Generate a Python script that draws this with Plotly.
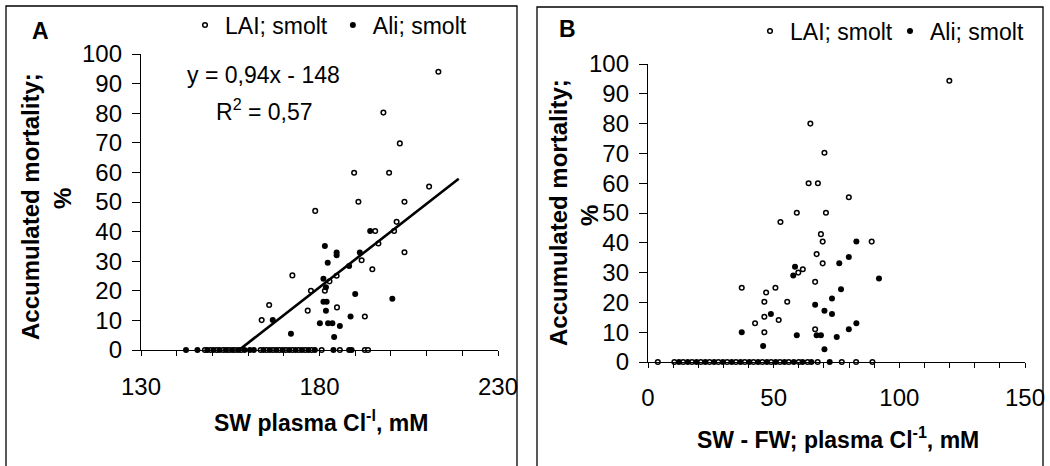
import plotly.graph_objects as go

# ---------------- Data ----------------
# Panel A: SW plasma Cl (mM) vs accumulated mortality (%)
a_lai_x = [213.3, 197.9, 202.5, 189.7, 199.5, 210.7, 190.9, 203.8, 178.8, 201.6, 195.6, 200.9,
           196.5, 203.8, 191.8, 194.8, 172.4, 184.8, 182.8, 181.5, 177.6, 165.9, 184.9, 176.7,
           163.8, 192.7,
           147.9, 149.5, 151.2, 153.0, 154.6, 156.3, 158.0, 163.5, 165.2, 167.0, 168.8, 170.6,
           172.4, 174.2, 176.0, 177.8, 180.6, 185.7, 192.7, 193.6]
a_lai_y = [94.0, 80.2, 69.8, 59.9, 59.9, 55.2, 50.1, 50.1, 47.0, 43.3, 40.2, 40.2,
           36.0, 33.0, 30.3, 27.3, 25.2, 25.1, 23.2, 20.0, 20.0, 15.2, 14.4, 13.3,
           10.1, 11.3,
           0, 0, 0, 0, 0, 0, 0, 0, 0, 0, 0, 0,
           0, 0, 0, 0, 0, 0, 0, 0]
a_ali_x = [194.2, 181.5, 184.8, 184.8, 191.3, 182.3, 188.3, 181.1, 181.8, 190.0, 200.4, 181.1,
           182.0, 181.8, 166.9, 180.1, 182.4, 183.6, 185.7, 188.7, 172.0, 184.1,
           142.6, 145.8, 148.6, 150.3, 152.0, 153.8, 155.5, 157.2, 159.0, 160.5, 161.6, 164.3,
           166.1, 167.9, 169.7, 171.5, 173.3, 175.1, 176.9, 178.7, 183.9, 188.3, 189.0]
a_ali_y = [40.2, 35.1, 32.9, 32.0, 32.9, 29.5, 28.4, 24.1, 21.2, 18.9, 17.3, 16.3,
           16.3, 13.3, 10.1, 9.0, 9.0, 9.0, 8.1, 11.3, 5.5, 4.4,
           0, 0, 0, 0, 0, 0, 0, 0, 0, 0, 0, 0,
           0, 0, 0, 0, 0, 0, 0, 0, 0, 0, 0]
# Linear fit shown in panel A
fit_slope = 0.94
fit_intercept = -148
fit_x_end = 219.0

# Panel B: SW - FW plasma Cl (mM) vs accumulated mortality (%)
b_lai_x = [119.9, 64.6, 70.2, 63.9, 67.6, 79.9, 59.2, 70.8, 52.7, 68.8, 69.5, 89.0,
           67.1, 69.5, 61.6, 59.8, 66.5, 37.3, 50.7, 47.0, 46.3, 55.4, 46.3, 42.6,
           52.0, 46.3, 66.5,
           3.9, 10.5, 14.0, 17.5, 21.0, 24.5, 28.0, 31.5, 35.0, 38.5, 42.0, 45.5,
           49.0, 52.5, 56.0, 60.0, 63.5, 67.5, 77.1, 82.8, 89.3]
b_lai_y = [94.4, 80.0, 70.2, 60.0, 60.0, 55.3, 50.1, 50.1, 47.0, 42.9, 40.4, 40.4,
           36.2, 33.1, 31.1, 30.0, 26.9, 24.9, 24.9, 23.3, 20.2, 20.2, 15.2, 13.0,
           14.1, 10.0, 11.0,
           0, 0, 0, 0, 0, 0, 0, 0, 0, 0, 0, 0,
           0, 0, 0, 0, 0, 0, 0, 0, 0]
b_ali_x = [82.9, 79.9, 76.1, 91.9, 58.5, 57.8, 76.8, 73.2, 66.5, 70.2, 73.2, 48.9,
           82.9, 79.9, 37.3, 59.2, 67.1, 68.8, 75.1, 45.8, 70.2,
           12.3, 15.8, 19.3, 22.8, 26.3, 29.8, 33.3, 36.8, 40.3, 43.8, 47.3, 50.8,
           54.3, 58.0, 61.5, 65.0, 72.3]
b_ali_y = [40.4, 35.2, 33.1, 28.0, 32.0, 29.0, 24.4, 21.3, 19.2, 17.2, 16.1, 16.1,
           13.0, 11.0, 10.0, 9.0, 9.0, 9.0, 8.4, 5.4, 4.3,
           0, 0, 0, 0, 0, 0, 0, 0, 0, 0, 0, 0,
           0, 0, 0, 0, 0]

series_names = ["LAI; smolt", "Ali; smolt"]
a_xrange = [130, 230]
b_xrange = [0, 150]
y_range = [0, 100]
x_label_step = 50
x_minor_step = 10
y_step = 10

# ---------------- Figure ----------------
W, H = 1050, 466
FONT = "Liberation Sans, Arial, sans-serif"
FS = 23
TICK_FS = 24

def px_x(p):
    return p / W

def px_y(p):
    return 1 - p / H

open_marker = dict(symbol="circle", size=4.6, color="white", line=dict(color="black", width=1.5))
fill_marker = dict(symbol="circle", size=6, color="black", line=dict(color="black", width=0))

fig = go.Figure()
fig.add_trace(go.Scatter(x=a_lai_x, y=a_lai_y, mode="markers", name=series_names[0],
                         marker=open_marker, xaxis="x", yaxis="y", legend="legend", cliponaxis=False))
fig.add_trace(go.Scatter(x=a_ali_x, y=a_ali_y, mode="markers", name=series_names[1],
                         marker=fill_marker, xaxis="x", yaxis="y", legend="legend", cliponaxis=False))
fit_x = [-fit_intercept / fit_slope, fit_x_end]
fit_y = [fit_slope * v + fit_intercept for v in fit_x]
fig.add_trace(go.Scatter(x=fit_x, y=fit_y, mode="lines", line=dict(color="black", width=2.6),
                         showlegend=False, xaxis="x", yaxis="y", hoverinfo="skip"))

fig.add_trace(go.Scatter(x=b_lai_x, y=b_lai_y, mode="markers", name=series_names[0],
                         marker=open_marker, xaxis="x2", yaxis="y2", legend="legend2", cliponaxis=False))
fig.add_trace(go.Scatter(x=b_ali_x, y=b_ali_y, mode="markers", name=series_names[1],
                         marker=fill_marker, xaxis="x2", yaxis="y2", legend="legend2", cliponaxis=False))

axis_common = dict(showgrid=False, zeroline=False, showline=True, linecolor="black", linewidth=1.3,
                   ticks="outside", tickcolor="black", tickwidth=1.3, automargin=False,
                   tickfont=dict(family=FONT, size=TICK_FS, color="black"))

minor_x = dict(dtick=x_minor_step, ticks="outside", ticklen=5, tickcolor="black", tickwidth=1.3, showgrid=False)

fig.update_layout(
    width=W, height=H,
    margin=dict(l=0, r=0, t=0, b=0, autoexpand=False),
    paper_bgcolor="white", plot_bgcolor="white",
    font=dict(family=FONT, size=FS, color="black"),
    xaxis=dict(domain=[px_x(141), px_x(498)], range=a_xrange, anchor="y",
               tickmode="linear", tick0=a_xrange[0], dtick=x_label_step, ticklen=5, ticklabelstandoff=10,
               minor=minor_x, **axis_common),
    yaxis=dict(domain=[px_y(350), px_y(54)], range=y_range, anchor="x",
               tickmode="linear", tick0=0, dtick=y_step, ticklen=8, ticklabelstandoff=5,
               **axis_common),
    xaxis2=dict(domain=[px_x(648), px_x(1025)], range=b_xrange, anchor="y2",
                tickmode="linear", tick0=b_xrange[0], dtick=x_label_step, ticklen=5, ticklabelstandoff=9,
                minor=minor_x, **axis_common),
    yaxis2=dict(domain=[px_y(362), px_y(64)], range=y_range, anchor="x2",
                tickmode="linear", tick0=0, dtick=y_step, ticklen=8, ticklabelstandoff=5,
                **axis_common),
    legend=dict(orientation="h", x=px_x(185), xanchor="left", y=px_y(25), yanchor="middle",
                font=dict(family=FONT, size=FS), bgcolor="rgba(0,0,0,0)", borderwidth=0,
                itemsizing="trace"),
    legend2=dict(orientation="h", x=px_x(750), xanchor="left", y=px_y(31), yanchor="middle",
                 font=dict(family=FONT, size=FS), bgcolor="rgba(0,0,0,0)", borderwidth=0,
                 itemsizing="trace", entrywidth=95, entrywidthmode="pixels"),
    showlegend=True,
)

# Panel frames
fig.add_shape(type="rect", xref="paper", yref="paper", x0=px_x(6), x1=px_x(517), y0=-0.02, y1=px_y(6),
              line=dict(color="black", width=1.3), fillcolor="rgba(0,0,0,0)", layer="below")
fig.add_shape(type="rect", xref="paper", yref="paper", x0=px_x(537), x1=px_x(1043), y0=-0.02, y1=px_y(7),
              line=dict(color="black", width=1.3), fillcolor="rgba(0,0,0,0)", layer="below")

def ann(text, x, y, size=FS, bold=False, angle=0):
    fig.add_annotation(text=f"<b>{text}</b>" if bold else text, xref="paper", yref="paper",
                       x=px_x(x), y=px_y(y), xanchor="center", yanchor="middle", showarrow=False,
                       textangle=angle, font=dict(family=FONT, size=size, color="black"))

# Panel letters
ann("A", 40, 31, bold=True)
ann("B", 567, 29, bold=True)
# Regression text
ann("y = 0,94x - 148", 263, 75)
ann("R<sup>2</sup> = 0,57", 264, 110)
# Axis titles
ann("Accumulated mortality;", 30, 207, size=24, bold=True, angle=-90)
ann("%", 62, 199, size=24, bold=True, angle=-90)
ann("Accumulated mortality;", 558, 213, size=24, bold=True, angle=-90)
ann("%", 589, 216, size=24, bold=True, angle=-90)
ann("SW plasma Cl<sup>-l</sup>, mM", 321, 421, bold=True)
ann("SW - FW; plasma Cl<sup>-1</sup>, mM", 838, 438, bold=True)

fig.write_html("out.html", config={"displayModeBar": False},
               post_script="document.body.style.margin='0px';")
